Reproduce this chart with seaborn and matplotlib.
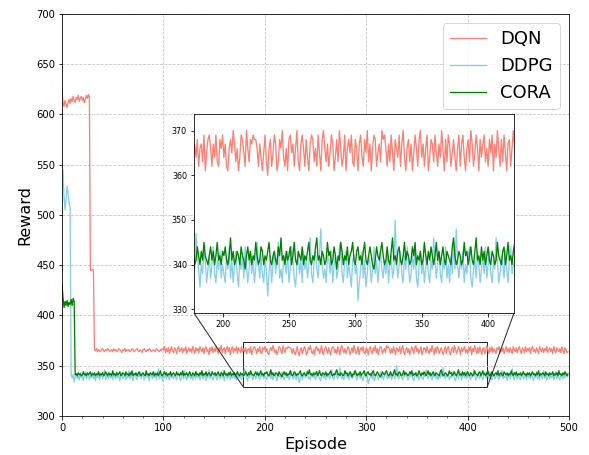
import numpy as np
import pandas as pd
import seaborn as sns
import matplotlib.pyplot as plt
from matplotlib.ticker import MultipleLocator
from mpl_toolkits.axes_grid1.inset_locator import mark_inset

#  DATA (one value per episode)
episodes = np.arange(500)

dqn = [
    # episodes 0-99
    623, 612, 608, 614, 610, 607, 612, 615, 611, 616, 613, 618, 614, 612, 617, 615, 619, 613, 616, 618,
    614, 617, 612, 615, 619, 616, 620, 617,
    445, 445, 446, 445,
    366, 365, 367, 364, 366, 365, 364, 366, 367, 365, 364, 366, 365, 367, 366, 364, 365, 366, 364, 367,
    365, 366, 364, 365, 367, 366, 365, 363, 366, 365, 367, 364, 366, 365, 366, 364, 365, 367, 366, 364,
    365, 366, 367, 365, 364, 366, 365, 363, 366, 367, 365, 364, 366, 365, 367, 366, 364, 365, 366, 365,
    364, 367, 366, 365, 364, 366, 365, 367,
    # episodes 100-179
    366, 369, 363, 367, 364, 368, 362, 366, 369, 365, 363, 368, 366, 362, 367, 369, 364, 366, 368, 363,
    367, 365, 369, 362, 366, 368, 364, 367, 363, 369, 366, 362, 368, 365, 367, 363, 369, 366, 364, 368,
    362, 367, 369, 364, 366, 361, 368, 365, 369, 363, 367, 364, 369, 366, 362, 368, 365, 370, 363, 366,
    368, 362, 367, 369, 364, 368, 361, 366, 369, 363, 367, 365, 369, 362, 368, 366, 363, 369, 364, 367,
    # episodes 180-419 (zoomed window)
    364, 368, 362, 366, 367, 363, 369, 361, 365, 368, 369, 366, 362, 367, 364, 369, 363, 362, 368, 366,
    369, 364, 367, 362, 361, 366, 368, 365, 370, 367, 363, 366, 361, 364, 369, 368, 365, 362, 370, 366,
    363, 368, 367, 369, 368, 368, 366, 362, 367, 364, 361, 365, 369, 363, 360, 366, 368, 362, 365, 369,
    367, 361, 363, 368, 366, 370, 364, 362, 366, 361, 368, 369, 365, 367, 362, 366, 370, 363, 361, 367,
    369, 366, 362, 368, 364, 361, 367, 369, 368, 363, 366, 362, 369, 365, 361, 368, 370, 366, 363, 367,
    362, 365, 369, 367, 361, 364, 368, 363, 370, 366, 362, 364, 369, 361, 366, 368, 365, 369, 363, 362,
    368, 366, 361, 367, 369, 364, 362, 368, 365, 370, 363, 367, 361, 366, 369, 368, 362, 365, 367, 363,
    370, 368, 369, 366, 362, 367, 363, 369, 365, 361, 368, 366, 364, 369, 362, 367, 370, 364, 361, 366,
    368, 363, 367, 361, 365, 369, 366, 362, 368, 370, 364, 367, 362, 366, 369, 361, 364, 368, 367, 363,
    369, 365, 362, 367, 364, 370, 366, 361, 368, 363, 369, 367, 362, 365, 368, 364, 361, 366, 369, 362,
    367, 369, 364, 361, 366, 368, 363, 370, 367, 362, 365, 369, 366, 361, 368, 364, 367, 369, 363, 366,
    362, 368, 365, 369, 361, 367, 364, 370, 366, 362, 368, 363, 369, 365, 361, 367, 368, 362, 366, 370,
    # episodes 420-499
    366, 362, 368, 364, 369, 363, 367, 365, 362, 368, 366, 369, 363, 367, 364, 368, 362, 366, 369, 364,
    367, 363, 368, 365, 362, 369, 366, 364, 368, 363, 367, 369, 365, 362, 368, 366, 363, 369, 364, 367,
    365, 368, 362, 367, 369, 364, 366, 363, 368, 365, 362, 369, 366, 364, 368, 363, 367, 365, 369, 363,
    366, 368, 364, 367, 362, 369, 365, 363, 368, 366, 364, 367, 363, 369, 365, 362, 368, 366, 363, 364,
]

ddpg = [
    # episodes 0-9
    548, 544, 518, 505, 516, 529, 521, 512, 507, 341,
    # episodes 10-179
    338, 341, 334, 339, 342, 337, 340, 336, 343, 338, 341, 335, 340, 344, 337, 339, 342, 336, 340, 338,
    343, 337, 340, 335, 341, 338, 344, 336, 339, 342, 337, 340, 346, 336, 339, 341, 337, 343, 338, 340,
    336, 342, 339, 337, 344, 338, 341, 335, 340, 343, 337, 339, 342, 336, 340, 338, 345, 337, 341, 339,
    335, 340, 343, 338, 336, 341, 339, 344, 337, 340, 342, 336, 339, 343, 338, 341, 335, 340, 342, 337,
    341, 338, 344, 336, 340, 347, 337, 339, 342, 335, 340, 338, 343, 337, 341, 339, 336, 344, 338, 340,
    337, 342, 339, 336, 341, 343, 338, 335, 340, 342, 337, 345, 339, 336, 341, 338, 343, 337, 340, 336,
    342, 339, 337, 344, 338, 341, 336, 340, 343, 337, 339, 342, 335, 340, 338, 346, 337, 341, 339, 336,
    340, 343, 338, 336, 342, 339, 337, 344, 338, 341, 335, 340, 342, 337, 339, 343, 336, 340, 338, 342,
    337, 340, 336, 343, 339, 338, 341, 336, 342, 339,
    # episodes 180-419 (zoomed window)
    347, 342, 339, 335, 340, 338, 343, 341, 336, 339, 342, 337, 340, 344, 338, 336, 341, 339, 343, 337,
    340, 338, 336, 342, 339, 344, 337, 341, 336, 340, 343, 338, 335, 341, 339, 342, 337, 344, 340, 336,
    339, 343, 338, 341, 336, 339, 345, 340, 337, 342, 338, 336, 341, 339, 333, 338, 342, 336, 340, 343,
    338, 341, 345, 337, 339, 336, 342, 340, 338, 343, 336, 339, 344, 341, 337, 335, 340, 342, 338, 341,
    336, 343, 339, 341, 337, 340, 346, 338, 336, 341, 343, 339, 337, 342, 348, 340, 337, 339, 336, 342,
    341, 338, 343, 336, 340, 342, 337, 339, 344, 345, 338, 336, 341, 343, 337, 340, 338, 335, 341, 342,
    338, 340, 332, 336, 339, 343, 337, 341, 335, 338, 342, 340, 336, 339, 344, 338, 341, 336, 340, 343,
    339, 337, 341, 338, 343, 336, 340, 342, 337, 339, 350, 341, 337, 340, 343, 338, 336, 342, 339, 344,
    340, 336, 338, 342, 339, 344, 337, 335, 340, 343, 338, 341, 336, 339, 342, 338, 336, 341, 339, 346,
    341, 337, 340, 343, 338, 336, 341, 339, 344, 337, 340, 336, 342, 338, 345, 339, 348, 340, 337, 341,
    339, 343, 336, 340, 338, 342, 344, 337, 335, 339, 341, 337, 343, 340, 336, 339, 342, 338, 344, 337,
    340, 343, 338, 336, 341, 339, 346, 341, 336, 338, 342, 340, 337, 343, 339, 336, 341, 344, 338, 340,
    # episodes 420-499
    341, 337, 344, 338, 336, 340, 342, 337, 339, 343,
    338, 336, 341, 339, 345, 337, 340, 338, 342, 335, 339, 343, 337, 340, 347, 338, 336, 341, 339, 337,
    342, 338, 336, 340, 344, 337, 339, 341, 336, 343, 338, 340, 337, 342, 339, 335, 341, 338, 344, 337,
    340, 336, 342, 339, 337, 345, 338, 341, 336, 339, 343, 337, 340, 338, 342, 336, 339, 344, 337, 341,
    338, 336, 342, 339, 337, 341, 338, 343, 339, 340,
]

cora = [
    # episodes 0-12
    431, 418, 408, 414, 410, 415, 409, 413, 411, 416, 410, 417, 414,
    # episodes 13-179
    341, 342, 340, 343, 341, 342, 340, 341, 344, 341, 342, 340, 343, 341, 342, 344, 340, 342, 341, 343,
    340, 342, 341, 344, 340, 342, 341, 343, 340, 341, 344, 342, 340, 343, 341, 342, 340, 345, 341, 342,
    340, 343, 341, 342, 344, 340, 341, 343, 342, 340, 344, 341, 342, 340, 343, 341, 345, 340, 342, 341,
    343, 340, 342, 344, 341, 340, 342, 343, 341, 340, 345, 341, 342, 340, 343, 342, 341, 344, 340, 342,
    341, 343, 340, 342, 345, 341, 340, 342, 344, 341, 343, 340, 342, 341, 344, 340, 342, 343, 341, 340,
    344, 341, 342, 340, 343, 341, 345, 340, 342, 341, 343, 340, 342, 344, 341, 340, 343, 342, 340, 344,
    341, 342, 340, 343, 341, 345, 340, 342, 341, 344, 340, 342, 343, 341, 340, 344, 342, 341, 343, 340,
    342, 344, 341, 340, 343, 342, 340, 345, 341, 342, 340, 343, 341, 344, 340, 342, 341, 343, 340, 342,
    344, 341, 340, 343, 341, 342, 340,
    # episodes 180-419 (zoomed window)
    341, 344, 342, 340, 343, 341, 345, 342, 341, 340, 342, 344, 341, 343, 340, 342, 345, 341, 342, 340,
    343, 342, 344, 341, 340, 342, 346, 341, 343, 340, 341, 343, 342, 340, 344, 342, 341, 339, 342, 344,
    341, 343, 340, 342, 341, 345, 342, 340, 341, 344, 343, 340, 342, 341, 343, 345, 341, 340, 342, 343,
    341, 340, 344, 342, 346, 341, 342, 340, 343, 341, 342, 344, 340, 342, 345, 341, 340, 343, 342, 341,
    344, 340, 342, 341, 343, 345, 341, 340, 342, 341, 344, 346, 341, 342, 340, 343, 342, 340, 341, 345,
    342, 343, 340, 341, 344, 342, 339, 342, 341, 345, 343, 340, 342, 341, 344, 340, 342, 343, 345, 341,
    340, 343, 344, 341, 342, 340, 343, 345, 341, 340, 342, 344, 342, 340, 339, 341, 344, 342, 341, 343,
    345, 342, 340, 341, 344, 341, 340, 343, 346, 341, 342, 340, 343, 344, 341, 340, 342, 345, 341, 343,
    342, 340, 341, 344, 342, 345, 340, 342, 341, 343, 340, 341, 345, 342, 340, 343, 341, 344, 342, 340,
    342, 345, 341, 343, 340, 342, 344, 341, 340, 343, 342, 341, 340, 344, 346, 342, 340, 341, 343, 342,
    340, 341, 345, 342, 343, 340, 342, 344, 341, 340, 343, 346, 341, 342, 340, 344, 341, 343, 340, 342,
    344, 341, 340, 343, 342, 340, 341, 345, 342, 341, 340, 343, 344, 340, 342, 345, 341, 342, 340, 343,
    # episodes 420-499
    345, 341, 340, 342, 344, 341, 340, 342, 343, 341, 345, 340, 342, 343, 341, 340, 344, 342, 341, 343,
    340, 342, 341, 345, 342, 340, 343, 341, 344, 340, 342, 341, 343, 340, 342, 344, 341, 342, 340, 343,
    341, 343, 340, 342, 344, 341, 342, 340, 343, 341, 345, 340, 342, 341, 343, 342, 340, 344, 341, 342,
    340, 343, 341, 342, 344, 340, 342, 341, 343, 340, 345, 341, 342, 340, 343, 341, 344, 342, 340, 342,
]

methods = ["DQN", "DDPG", "CORA"]
colors = ["salmon", "skyblue", "green"]


def build_frame():
    df = pd.DataFrame({"Episode": episodes, "DQN": dqn, "DDPG": ddpg, "CORA": cora})
    return df.melt(id_vars="Episode", var_name="Method", value_name="Reward")


def main():
    long_df = build_frame()
    palette = dict(zip(methods, colors))

    fig = plt.figure(figsize=(589 / 72, 455 / 72), dpi=72)
    ax = fig.add_axes([62 / 589, 1 - 416 / 455, 507 / 589, 402 / 455])

    sns.lineplot(data=long_df, x="Episode", y="Reward", hue="Method",
                 hue_order=methods, palette=palette, errorbar=None,
                 linewidth=1.3, ax=ax)
    ax.set_xlim(0, 500)
    ax.set_ylim(300, 700)
    ax.xaxis.set_major_locator(MultipleLocator(100))
    ax.xaxis.set_minor_locator(MultipleLocator(20))
    ax.yaxis.set_major_locator(MultipleLocator(50))
    ax.grid(True, linestyle="--", color="#c4c4c4", linewidth=0.8)
    ax.set_xlabel("Episode", fontsize=16)
    ax.set_ylabel("Reward", fontsize=16)
    ax.tick_params(labelsize=10)
    ax.legend(loc="upper right", fontsize=18)

    # zoomed inset
    axins = fig.add_axes([194 / 589, 1 - 313 / 455, 320 / 589, 199 / 455])
    sns.lineplot(data=long_df, x="Episode", y="Reward", hue="Method",
                 hue_order=methods, palette=palette, errorbar=None,
                 linewidth=1.3, legend=False, ax=axins)
    axins.set_xlim(178.5, 419.5)
    axins.set_ylim(329.2, 373.7)
    axins.xaxis.set_major_locator(MultipleLocator(50))
    axins.yaxis.set_major_locator(MultipleLocator(10))
    axins.set_xlabel("")
    axins.set_ylabel("")
    axins.tick_params(labelsize=8)
    mark_inset(ax, axins, loc1=3, loc2=4, fc="none", ec="0.15", lw=1)

    fig.savefig("out.png", dpi=72)
    plt.close(fig)


if __name__ == "__main__":
    main()
